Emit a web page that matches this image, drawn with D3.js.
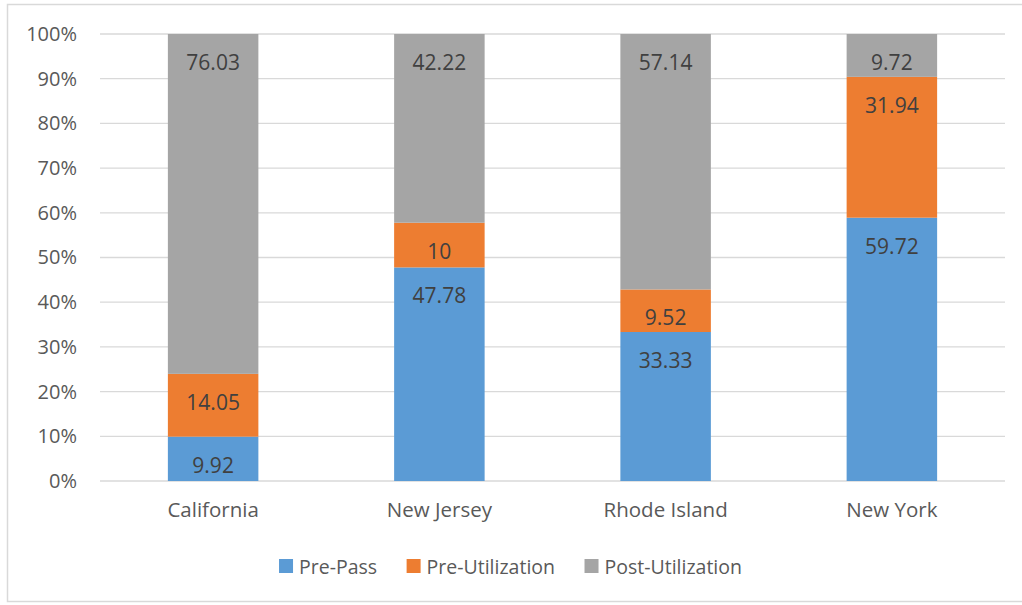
<!DOCTYPE html>
<html>
<head>
<meta charset="utf-8">
<script src="https://cdn.jsdelivr.net/npm/d3@7"></script>
<style>
  html, body { margin: 0; padding: 0; background: #fff; }
  svg { display: block; font-family: "Open Sans", sans-serif; }
</style>
</head>
<body>
<svg id="chart" width="1022" height="605"></svg>
<script>
// Share of each stage per state (100% stacked columns)
const states = ["California", "New Jersey", "Rhode Island", "New York"];
const seriesNames = ["Pre-Pass", "Pre-Utilization", "Post-Utilization"];
const prePass = [9.92, 47.78, 33.33, 59.72];
const preUtilization = [14.05, 10, 9.52, 31.94];
const postUtilization = [76.03, 42.22, 57.14, 9.72];
const seriesColors = ["#5b9bd5", "#ed7d31", "#a5a5a5"];
const yTicks = [0, 0.1, 0.2, 0.3, 0.4, 0.5, 0.6, 0.7, 0.8, 0.9, 1];

const rows = states.map((s, i) => ({
  state: s,
  "Pre-Pass": prePass[i],
  "Pre-Utilization": preUtilization[i],
  "Post-Utilization": postUtilization[i]
}));

const svg = d3.select("#chart");
const plot = { left: 100, right: 1005, top: 34, bottom: 481 };
const textColor = "#595959";
const gridColor = "#d9d9d9";

// Chart frame
svg.append("rect")
  .attr("x", 7.5).attr("y", 4.5)
  .attr("width", 1030).attr("height", 597)
  .attr("fill", "#fff")
  .attr("stroke", gridColor).attr("stroke-width", 1.5);

const x = d3.scaleBand()
  .domain(states)
  .range([plot.left, plot.right])
  .paddingInner(0.6)
  .paddingOuter(0.3);

const y = d3.scaleLinear().domain([0, 1]).range([plot.bottom, plot.top]);

// Gridlines
svg.append("g")
  .selectAll("line")
  .data(yTicks)
  .join("line")
  .attr("x1", plot.left).attr("x2", plot.right)
  .attr("y1", d => y(d)).attr("y2", d => y(d))
  .attr("stroke", gridColor).attr("stroke-width", 1.3);

// Y axis tick labels
const yAxis = d3.axisLeft(y).tickValues(yTicks).tickFormat(d3.format(".0%")).tickSize(0).tickPadding(23);
svg.append("g")
  .attr("transform", `translate(${plot.left},0)`)
  .call(yAxis)
  .call(g => g.select(".domain").remove())
  .call(g => g.selectAll("text")
    .attr("fill", textColor)
    .attr("font-size", 20)
    .attr("font-family", "Open Sans, sans-serif"));

// Stacked, normalised to 100%
const stack = d3.stack().keys(seriesNames).offset(d3.stackOffsetExpand);
const layers = stack(rows);

const layerG = svg.append("g")
  .selectAll("g")
  .data(layers)
  .join("g")
  .attr("fill", (d, i) => seriesColors[i]);

layerG.selectAll("rect")
  .data(d => d)
  .join("rect")
  .attr("x", d => x(d.data.state))
  .attr("width", x.bandwidth())
  .attr("y", d => y(d[1]))
  .attr("height", d => y(d[0]) - y(d[1]));

// Value labels, placed just inside the top of each segment
const labelG = svg.append("g");
layers.forEach(layer => {
  layer.forEach(d => {
    labelG.append("text")
      .attr("x", x(d.data.state) + x.bandwidth() / 2)
      .attr("y", y(d[1]) + 28)
      .attr("text-anchor", "middle")
      .attr("dominant-baseline", "central")
      .attr("fill", "#404040")
      .attr("font-size", 21)
      .text(d.data[layer.key]);
  });
});

// Category axis labels
const xAxis = d3.axisBottom(x).tickSize(0).tickPadding(21);
svg.append("g")
  .attr("transform", `translate(0,${plot.bottom})`)
  .call(xAxis)
  .call(g => g.select(".domain").remove())
  .call(g => g.selectAll("text")
    .attr("fill", textColor)
    .attr("font-size", 20.5)
    .attr("font-family", "Open Sans, sans-serif"));

// Legend, centred under the chart
const legend = svg.append("g");
const legendY = 566;
const items = seriesNames.map((name, i) => {
  const g = legend.append("g");
  g.append("rect")
    .attr("width", 14).attr("height", 14)
    .attr("y", legendY - 7)
    .attr("fill", seriesColors[i]);
  const t = g.append("text")
    .attr("x", 20)
    .attr("y", legendY)
    .attr("dominant-baseline", "central")
    .attr("fill", textColor)
    .attr("font-size", 19.5)
    .text(name);
  return { g, w: 20 + t.node().getComputedTextLength() };
});
const gap = 29.5;
const total = d3.sum(items, d => d.w) + gap * (items.length - 1);
let cx = 510.5 - total / 2;
items.forEach(it => {
  it.g.attr("transform", `translate(${cx},0)`);
  cx += it.w + gap;
});
</script>
</body>
</html>
